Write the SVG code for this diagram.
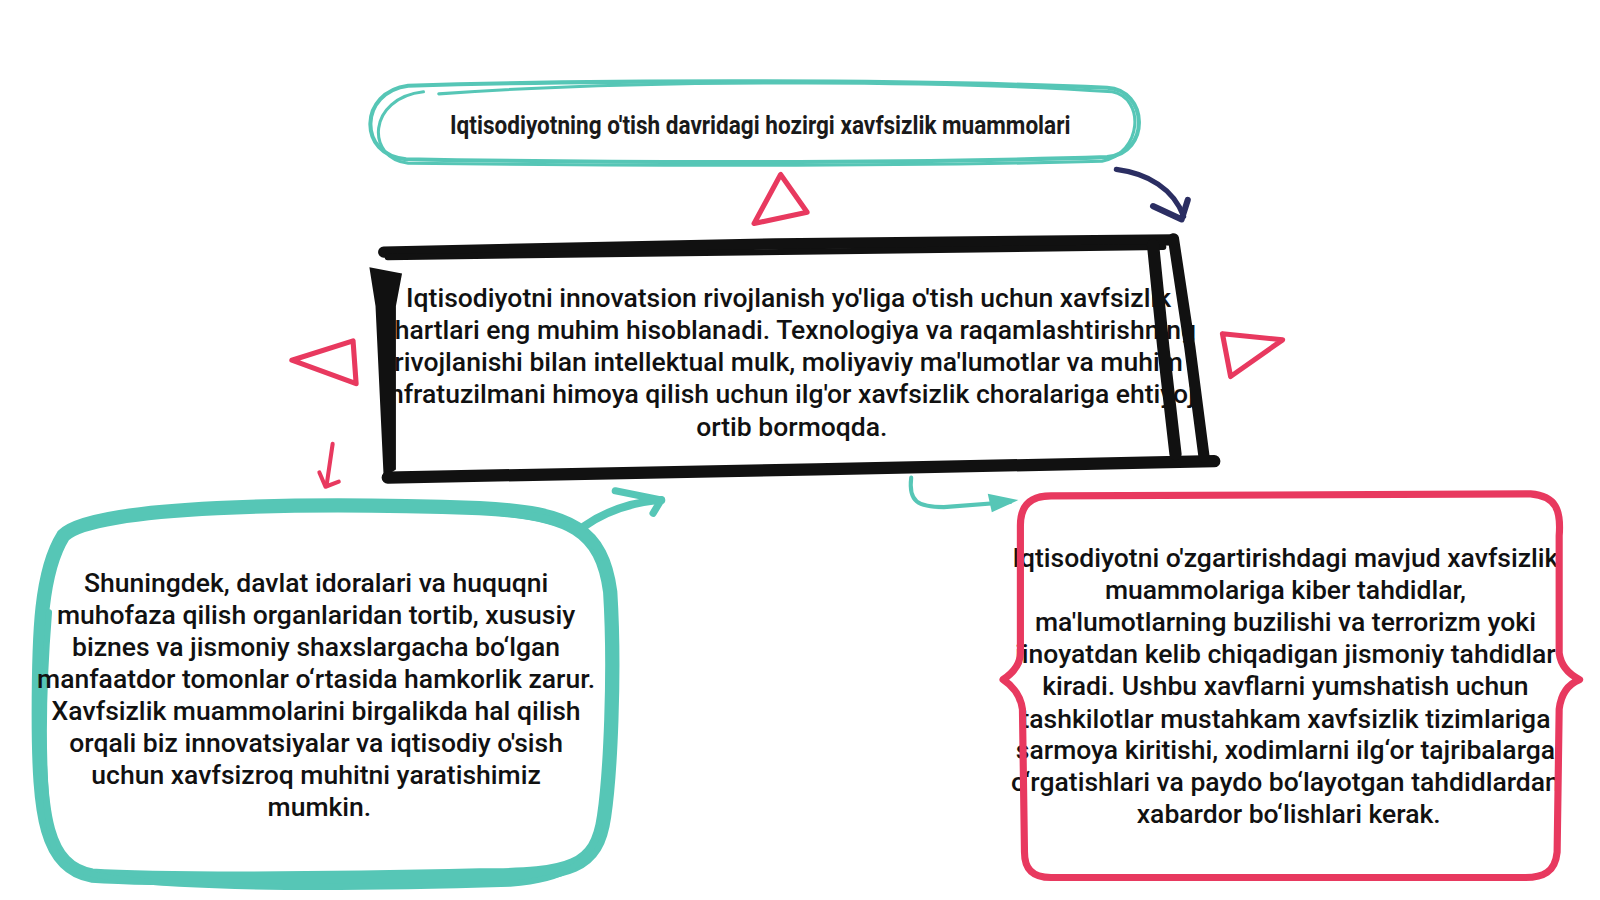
<svg xmlns="http://www.w3.org/2000/svg" width="1600" height="900" viewBox="0 0 1600 900">
<style>
.body{font-family:Roboto,"Liberation Sans",sans-serif;font-size:26px;font-weight:500;fill:#111;text-anchor:middle}
.title{font-family:"Liberation Sans Narrow","Roboto","Liberation Sans",sans-serif;font-size:26px;font-weight:700;fill:#1a1a1a;text-anchor:middle}
.teal{fill:none;stroke:#56c6b6;stroke-linecap:round;stroke-linejoin:round}
.red{fill:none;stroke:#e8395f;stroke-linecap:round;stroke-linejoin:round}
.blk{fill:none;stroke:#111;stroke-linecap:round;stroke-linejoin:round}
.navy{fill:none;stroke:#2b2e62;stroke-linecap:round;stroke-linejoin:round}
</style>
<rect width="1600" height="900" fill="#ffffff"/>
<g transform="scale(1.0204)">
<g id="title-node">
<path class="teal" stroke-width="4" d="M400,84 C600,78 900,78 1085,86 C1125,88 1128,150 1085,154 C900,160 600,160 398,156 C350,152 352,90 400,84 Z"/>
<path class="teal" stroke-width="3" d="M430,92 C650,76 950,80 1090,90 C1122,96 1120,150 1080,158 C850,164 600,162 400,160 C358,155 360,96 415,90"/>
<text class="title" x="745" y="131" textLength="608" lengthAdjust="spacingAndGlyphs">Iqtisodiyotning o'tish davridagi hozirgi xavfsizlik muammolari</text>
</g>
<g id="center-node">
<text class="body">
<tspan x="776" y="301">Iqtisodiyotni innovatsion rivojlanish yo'liga o'tish uchun xavfsizlik</tspan>
<tspan x="776" y="332">shartlari eng muhim hisoblanadi. Texnologiya va raqamlashtirishning</tspan>
<tspan x="776" y="364">rivojlanishi bilan intellektual mulk, moliyaviy ma'lumotlar va muhim</tspan>
<tspan x="776" y="395">infratuzilmani himoya qilish uchun ilg'or xavfsizlik choralariga ehtiyoj</tspan>
<tspan x="776" y="427">ortib bormoqda.</tspan>
</text>
<path class="blk" stroke-width="11" d="M376,247 L760,239 L1150,235"/>
<path class="blk" stroke-width="6" d="M380,252 L1140,242"/>
<path fill="#111" d="M362,262 L394,268 L388,300 L388,460 L376,468 L368,300 Z"/>
<path class="blk" stroke-width="12" d="M380,468 L800,460 L1190,452"/>
<path class="blk" stroke-width="12" d="M1130,240 L1140,340 L1152,445"/>
<path class="blk" stroke-width="11" d="M1150,234 L1166,340 L1180,448"/>
</g>
<g id="left-node">
<path class="teal" stroke-width="14" d="M62,525 C90,495 300,492 470,498 C560,502 590,520 598,580 C603,660 598,760 592,800 C585,850 560,858 470,858 C300,862 150,862 90,858 C45,850 38,800 38,700 C38,620 40,560 62,525 Z"/>
<path class="teal" stroke-width="6" d="M48,600 C40,700 40,820 60,845 C90,872 300,872 500,866 C555,862 580,845 588,810"/>
<path class="teal" stroke-width="8" d="M470,500 C540,505 575,515 590,545"/>
<text class="body">
<tspan x="313" y="580">Shuningdek, davlat idoralari va huquqni</tspan>
<tspan x="313" y="612">muhofaza qilish organlaridan tortib, xususiy</tspan>
<tspan x="313" y="643">biznes va jismoniy shaxslargacha bo‘lgan</tspan>
<tspan x="313" y="674">manfaatdor tomonlar o‘rtasida hamkorlik zarur.</tspan>
<tspan x="313" y="706">Xavfsizlik muammolarini birgalikda hal qilish</tspan>
<tspan x="313" y="737">orqali biz innovatsiyalar va iqtisodiy o'sish</tspan>
<tspan x="313" y="768">uchun xavfsizroq muhitni yaratishimiz</tspan>
<tspan x="313" y="800">mumkin.</tspan>
</text>
</g>
<g id="right-node">
<text class="body">
<tspan x="1263" y="556">Iqtisodiyotni o'zgartirishdagi mavjud xavfsizlik</tspan>
<tspan x="1263" y="587">muammolariga kiber tahdidlar,</tspan>
<tspan x="1263" y="618">ma'lumotlarning buzilishi va terrorizm yoki</tspan>
<tspan x="1263" y="650">jinoyatdan kelib chiqadigan jismoniy tahdidlar</tspan>
<tspan x="1263" y="681">kiradi. Ushbu xavflarni yumshatish uchun</tspan>
<tspan x="1263" y="713">tashkilotlar mustahkam xavfsizlik tizimlariga</tspan>
<tspan x="1263" y="744">sarmoya kiritishi, xodimlarni ilg‘or tajribalarga</tspan>
<tspan x="1263" y="775">o‘rgatishlari va paydo bo‘layotgan tahdidlardan</tspan>
<tspan x="1263" y="807">xabardor bo‘lishlari kerak.</tspan>
</text>
<path class="red" stroke-width="7" d="M1030,486 L1500,484 C1525,486 1530,500 1528,525 L1528,640 C1530,655 1540,662 1548,666 C1538,670 1530,678 1528,695 L1526,835 C1524,855 1512,860 1495,860 L1030,860 C1010,860 1004,850 1004,835 L1002,695 C1000,680 992,672 983,666 C992,660 1000,652 1000,640 L1000,515 C1000,495 1010,486 1030,486 Z"/>
</g>
<g id="decor">
<path class="red" stroke-width="5" d="M765,171 L739,219 L791,208 Z"/>
<path class="red" stroke-width="5" d="M286,353 L346,334 L349,376 Z"/>
<path class="red" stroke-width="5" d="M1198,327 L1257,333 L1206,369 Z"/>
</g>
<g id="connectors">
<path class="navy" stroke-width="5" d="M1094,166 C1125,170 1150,185 1160,212"/>
<path class="navy" stroke-width="6" d="M1130,202 L1158,215 L1164,196"/>
<path class="red" stroke-width="4" d="M326,435 L320,476"/>
<path class="red" stroke-width="4" d="M313,463 L319,477 L332,472"/>
<path class="teal" stroke-width="8" d="M572,516 C595,500 620,492 648,490"/>
<path class="teal" stroke-width="7" d="M603,481 L648,490 L640,503"/>
<path class="teal" stroke-width="4" d="M893,468 C890,492 900,497 925,497 L990,492"/>
<path fill="#56c6b6" d="M968,484 L998,490 L972,502 Z"/>
</g>
</g>
</svg>
